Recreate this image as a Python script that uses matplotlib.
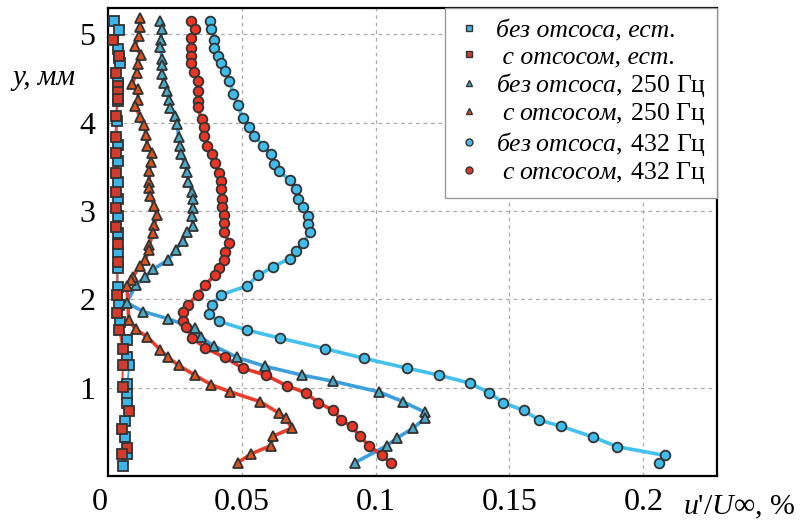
import matplotlib
matplotlib.use('Agg')

import matplotlib.pyplot as plt
from matplotlib.lines import Line2D

plt.rcParams['font.family'] = ['Liberation Serif', 'DejaVu Serif']
plt.rcParams['mathtext.fontset'] = 'custom'
plt.rcParams['mathtext.rm'] = 'Liberation Serif'
plt.rcParams['mathtext.it'] = 'Liberation Serif:italic'

# без отсоса, естественные возмущения (квадраты, голубые)
y_bez_est = [5.15, 5.05, 4.83, 4.73, 4.67, 4.45, 4.24, 4.02, 3.75, 3.56, 3.33, 3.13,
             2.94, 2.75, 2.54, 2.35, 2.14, 1.93, 1.74, 1.54, 1.35, 1.26, 1.04, 0.93,
             0.82, 0.62, 0.44, 0.25, 0.11]
x_bez_est = [0.0024, 0.0041, 0.0036, 0.0042, 0.0045, 0.0036, 0.0036, 0.0034, 0.0036,
             0.0036, 0.0036, 0.0038, 0.0038, 0.0036, 0.0036, 0.0036, 0.0036, 0.0042,
             0.0046, 0.0071, 0.0071, 0.0080, 0.0073, 0.0071, 0.0071, 0.0063, 0.0063,
             0.0071, 0.0055]

# с отсосом, естественные возмущения (квадраты, красные)
y_s_est = [4.94, 4.75, 4.56, 4.41, 4.35, 4.27, 4.08, 3.84, 3.66, 3.43, 3.21, 3.03,
           2.82, 2.63, 2.42, 2.05, 1.84, 1.65, 1.44, 1.25, 1.01, 0.73, 0.53, 0.32, 0.25]
x_s_est = [0.0020, 0.0042, 0.0030, 0.0036, 0.0036, 0.0036, 0.0030, 0.0029, 0.0030,
           0.0029, 0.0030, 0.0030, 0.0030, 0.0036, 0.0036, 0.0034, 0.0034, 0.0042,
           0.0055, 0.0055, 0.0055, 0.0080, 0.0051, 0.0071, 0.0051]

# без отсоса, 250 Гц (треугольники)
y_bez_250 = [5.15, 5.06, 4.94, 4.86, 4.72, 4.65, 4.55, 4.45, 4.36, 4.26, 4.17, 4.07,
             3.98, 3.84, 3.73, 3.64, 3.54, 3.44, 3.33, 3.22, 3.13, 3.03, 2.94, 2.83,
             2.76, 2.66, 2.56, 2.44, 2.34, 2.25, 2.16, 1.96, 1.86, 1.78, 1.67, 1.57,
             1.47, 1.34, 1.24, 1.14, 1.07, 0.95, 0.84, 0.72, 0.65, 0.54, 0.43, 0.34, 0.15]
x_bez_250 = [0.0194, 0.0201, 0.0198, 0.0194, 0.0204, 0.0204, 0.0201, 0.0208, 0.0220,
             0.0229, 0.0233, 0.0251, 0.0260, 0.0264, 0.0270, 0.0272, 0.0287, 0.0295,
             0.0300, 0.0313, 0.0318, 0.0318, 0.0313, 0.0318, 0.0297, 0.0279, 0.0254,
             0.0223, 0.0169, 0.0139, 0.0104, 0.0071, 0.0132, 0.0223, 0.0325, 0.0347,
             0.0397, 0.0484, 0.0587, 0.0726, 0.0842, 0.1013, 0.1102, 0.1184, 0.1184,
             0.1140, 0.1081, 0.1041, 0.0923]

# с отсосом, 250 Гц (треугольники)
y_s_250 = [5.19, 5.08, 4.98, 4.87, 4.77, 4.66, 4.56, 4.44, 4.38, 4.26, 4.19, 4.06,
           3.97, 3.86, 3.74, 3.66, 3.55, 3.45, 3.33, 3.26, 3.17, 3.06, 2.95, 2.84,
           2.75, 2.61, 2.56, 2.44, 2.38, 2.25, 2.22, 2.15, 1.76, 1.66, 1.57, 1.43,
           1.34, 1.25, 1.14, 1.03, 0.95, 0.84, 0.71, 0.65, 0.54, 0.45, 0.34, 0.25, 0.15]
x_s_250 = [0.0121, 0.0121, 0.0117, 0.0101, 0.0123, 0.0111, 0.0108, 0.0090, 0.0111,
           0.0114, 0.0102, 0.0121, 0.0136, 0.0142, 0.0148, 0.0164, 0.0160, 0.0154,
           0.0154, 0.0154, 0.0157, 0.0173, 0.0185, 0.0172, 0.0168, 0.0154, 0.0154,
           0.0138, 0.0121, 0.0092, 0.0086, 0.0071, 0.0078, 0.0104, 0.0148, 0.0195,
           0.0225, 0.0264, 0.0325, 0.0387, 0.0458, 0.0568, 0.0639, 0.0664, 0.0687,
           0.0618, 0.0608, 0.0536, 0.0486]

# без отсоса, 432 Гц (кружки)
y_bez_432 = [5.15, 5.06, 4.94, 4.85, 4.75, 4.68, 4.59, 4.47, 4.33, 4.20, 4.05, 3.95,
             3.85, 3.74, 3.64, 3.53, 3.45, 3.35, 3.25, 3.13, 3.05, 2.94, 2.85, 2.76,
             2.64, 2.55, 2.46, 2.37, 2.27, 2.15, 2.05, 1.94, 1.83, 1.75, 1.65, 1.56,
             1.44, 1.33, 1.22, 1.14, 1.05, 0.94, 0.83, 0.74, 0.63, 0.56, 0.44, 0.33,
             0.23, 0.14]
x_bez_432 = [0.0380, 0.0387, 0.0397, 0.0397, 0.0413, 0.0424, 0.0437, 0.0453, 0.0469,
             0.0486, 0.0503, 0.0527, 0.0546, 0.0581, 0.0608, 0.0621, 0.0639, 0.0679,
             0.0701, 0.0710, 0.0730, 0.0748, 0.0748, 0.0756, 0.0730, 0.0704, 0.0679,
             0.0618, 0.0561, 0.0519, 0.0423, 0.0390, 0.0378, 0.0415, 0.0520, 0.0642,
             0.0810, 0.0957, 0.1116, 0.1237, 0.1351, 0.1425, 0.1475, 0.1553, 0.1612,
             0.1694, 0.1811, 0.1902, 0.2082, 0.2060]

# с отсосом, 432 Гц (кружки)
y_s_432 = [5.15, 5.06, 4.96, 4.85, 4.76, 4.68, 4.57, 4.47, 4.36, 4.24, 4.18, 4.04,
           3.95, 3.85, 3.74, 3.65, 3.54, 3.43, 3.34, 3.25, 3.14, 3.04, 2.95, 2.86,
           2.76, 2.64, 2.54, 2.44, 2.35, 2.27, 2.16, 2.05, 1.94, 1.85, 1.75, 1.68,
           1.56, 1.45, 1.34, 1.22, 1.14, 1.02, 0.94, 0.83, 0.74, 0.63, 0.56, 0.45,
           0.34, 0.23, 0.14]
x_s_432 = [0.0310, 0.0326, 0.0310, 0.0310, 0.0310, 0.0310, 0.0322, 0.0335, 0.0335,
           0.0335, 0.0335, 0.0350, 0.0360, 0.0360, 0.0372, 0.0388, 0.0399, 0.0415,
           0.0422, 0.0422, 0.0425, 0.0428, 0.0434, 0.0434, 0.0434, 0.0453, 0.0438,
           0.0434, 0.0416, 0.0399, 0.0362, 0.0335, 0.0300, 0.0279, 0.0279, 0.0291,
           0.0316, 0.0362, 0.0437, 0.0503, 0.0590, 0.0668, 0.0739, 0.0785, 0.0842,
           0.0872, 0.0910, 0.0941, 0.0975, 0.1025, 0.1058]

labels = ["без отсоса, ест.",
          " с отсосом, ест.",
          r"$\mathit{без\;отсоса,}\;$250 Гц",
          r" $\mathit{с\;отсосом,}\;$250 Гц",
          r"$\mathit{без\;отсоса,}\;$432 Гц",
          r" $\mathit{с\;отсосом,}\;$432 Гц"]

series = [
    (x_bez_est, y_bez_est, 's', '#3db5e8', '#3aa8e0', 1.4, 6.5),
    (x_s_est, y_s_est, 's', '#d23a2c', '#ee4a35', 1.4, 6.5),
    (x_bez_250, y_bez_250, '^', '#4aaac6', '#3b9fdd', 2.6, 6.5),
    (x_s_250, y_s_250, '^', '#d9531f', '#ea3e2a', 2.6, 6.5),
    (x_bez_432, y_bez_432, 'o', '#40bdeb', '#42c0ee', 2.6, 7),
    (x_s_432, y_s_432, 'o', '#ec3424', '#e8372a', 2.6, 7),
]

fig = plt.figure(figsize=(8.05, 5.24), dpi=100)
ax = fig.add_axes([0.134, 0.092, 0.757, 0.893])

handles = []
for (xs, ys, m, face, lc, lw, ms), lab in zip(series, labels):
    ax.plot(xs, ys, '-', color=lc, lw=lw, zorder=2, solid_capstyle='round')
    ax.plot(xs, ys, m, mfc=face, mec='#333333', mew=1.3, ms=ms, zorder=3)
    handles.append(Line2D([], [], ls='none', marker=m, mfc=face, mec='#333333',
                          mew=1.0, ms=5, label=lab))

ax.set_xlim(0, 0.2276)
ax.set_ylim(0, 5.3)
ax.set_xticks([0, 0.05, 0.1, 0.15, 0.2])
ax.set_xticklabels(['0', '0.05', '0.1', '0.15', '0.2'])
ax.set_yticks([1, 2, 3, 4, 5])
ax.tick_params(length=0, labelsize=23, pad=9)
ax.get_xticklabels()[0].set_ha('right')
ax.grid(True, color='#aaaaaa', ls=(0, (3, 3)), lw=0.9)
for sp in ax.spines.values():
    sp.set_linewidth(1.6)

leg = ax.legend(handles=handles, loc='upper right', borderaxespad=0, fontsize=18.5,
                fancybox=False, edgecolor='#999999', framealpha=1, handlelength=0.9,
                handletextpad=0.6, labelspacing=0.1, borderpad=0.45)
leg.get_frame().set_linewidth(1.0)
for t in leg.get_texts()[:2]:
    t.set_fontstyle('italic')

fig.text(0.015, 0.851, "y, мм", fontsize=21, style='italic', va='center', ha='left')
fig.text(0.848, 0.031, r"$\mathit{u}$'/$\mathit{U}$∞, %", fontsize=21.5, va='center', ha='left')

fig.savefig('out.png', dpi=100)
